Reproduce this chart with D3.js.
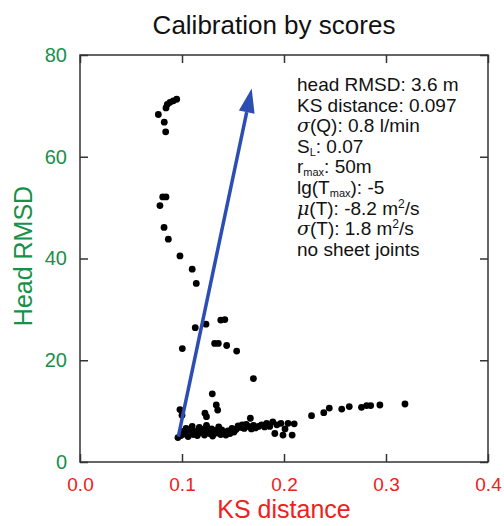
<!DOCTYPE html>
<html>
<head>
<meta charset="utf-8">
<script src="https://cdn.jsdelivr.net/npm/d3@7"></script>
<style>
  body { margin: 0; background: #fff; }
  text { font-family: "Liberation Sans", Arial, Helvetica, sans-serif; }
</style>
</head>
<body>
<svg id="chart" width="504" height="526"></svg>
<script>
// points, [KS distance, head RMSD]
const upperBranch = [
  [0.0948, 71.3], [0.0915, 71.0], [0.0882, 70.7], [0.0856, 70.3], [0.0843, 69.6],
  [0.0768, 68.3], [0.0826, 66.8], [0.0840, 64.9],
  [0.0811, 52.1], [0.0843, 52.1], [0.0784, 50.4],
  [0.0824, 46.1], [0.0866, 43.8], [0.098, 40.5], [0.110, 37.9], [0.114, 35.1]
];
const middleBranch = [
  [0.138, 27.9], [0.142, 28.0], [0.1235, 27.1], [0.113, 26.4],
  [0.1003, 22.3], [0.132, 23.3], [0.1356, 23.3], [0.1438, 22.9], [0.1536, 21.8],
  [0.170, 16.4], [0.1297, 13.4], [0.1336, 11.2], [0.135, 10.2],
  [0.098, 10.3], [0.100, 9.2], [0.1225, 9.6], [0.124, 8.9], [0.167, 8.6]
];
const lowerBand = [
  [0.096, 4.8], [0.099, 5.2], [0.101, 6.0], [0.103, 5.5], [0.104, 6.6], [0.106, 5.0],
  [0.108, 6.2], [0.110, 7.0], [0.111, 5.4], [0.113, 6.0], [0.115, 5.2], [0.117, 6.8],
  [0.118, 5.8], [0.120, 6.4], [0.122, 5.3], [0.124, 7.2], [0.125, 6.1], [0.127, 5.6],
  [0.129, 6.5], [0.130, 5.1], [0.132, 6.2], [0.134, 5.7], [0.136, 6.9], [0.138, 5.4],
  [0.139, 6.3], [0.141, 5.8], [0.143, 5.3], [0.145, 6.1], [0.147, 5.6], [0.149, 6.6],
  [0.151, 5.9], [0.153, 6.4], [0.155, 7.1], [0.157, 6.8], [0.159, 7.3], [0.161, 6.6],
  [0.163, 7.4], [0.165, 7.0], [0.168, 6.5], [0.170, 7.2], [0.172, 6.7], [0.175, 7.0],
  [0.178, 7.3], [0.181, 6.9], [0.183, 7.6], [0.186, 7.0], [0.189, 7.9], [0.191, 5.6],
  [0.193, 7.3], [0.197, 7.6], [0.199, 5.3], [0.201, 6.5], [0.204, 7.6], [0.208, 5.3],
  [0.210, 7.5]
];
const rightTail = [
  [0.227, 9.1], [0.239, 9.7], [0.2444, 10.6], [0.2566, 10.4], [0.264, 10.9],
  [0.276, 10.75], [0.281, 11.1], [0.285, 11.1], [0.294, 11.2], [0.3186, 11.4]
];
const arrowFrom = [0.0964, 5.0];
const arrowTo = [0.1683, 73.4];

const xTicks = [0.0, 0.1, 0.2, 0.3, 0.4];
const yTicks = [0, 20, 40, 60, 80];

// annotation lines: [text, shift] where shift is "sub", "sup" or "" ; italic greek as "i"
const notes = [
  [["head RMSD: 3.6 m", ""]],
  [["KS distance: 0.097", ""]],
  [["σ", "i"], ["(Q): 0.8 l/min", ""]],
  [["S", ""], ["L", "sub"], [": 0.07", ""]],
  [["r", ""], ["max", "sub"], [": 50m", ""]],
  [["lg(T", ""], ["max", "sub"], ["): -5", ""]],
  [["μ", "i"], ["(T): -8.2 m", ""], ["2", "sup"], ["/s", ""]],
  [["σ", "i"], ["(T): 1.8 m", ""], ["2", "sup"], ["/s", ""]],
  [["no sheet joints", ""]]
];

const svg = d3.select("#chart");
const x = d3.scaleLinear().domain([0, 0.4]).range([80, 488]);
const y = d3.scaleLinear().domain([0, 80]).range([462, 55]);

// frame
svg.append("rect")
  .attr("x", x(0)).attr("y", y(80))
  .attr("width", x(0.4) - x(0)).attr("height", y(0) - y(80))
  .attr("fill", "none").attr("stroke", "#333").attr("stroke-width", 1.5);

const tickStyle = (g) => {
  g.select(".domain").remove();
  g.selectAll(".tick line").attr("stroke", "#333").attr("stroke-width", 1.5);
};

svg.append("g")
  .attr("transform", `translate(0,${y(0)})`)
  .call(d3.axisBottom(x).tickValues(xTicks).tickSizeInner(-8).tickSizeOuter(0)
    .tickPadding(16).tickFormat(d3.format(".1f")))
  .call(tickStyle)
  .call((g) => g.selectAll("text").attr("fill", "#f02020").attr("font-size", 19));

svg.append("g")
  .attr("transform", `translate(0,${y(80)})`)
  .call(d3.axisTop(x).tickValues(xTicks).tickSizeInner(-8).tickSizeOuter(0).tickFormat(""))
  .call(tickStyle);

svg.append("g")
  .attr("transform", `translate(${x(0)},0)`)
  .call(d3.axisLeft(y).tickValues(yTicks).tickSizeInner(-8).tickSizeOuter(0).tickPadding(13))
  .call(tickStyle)
  .call((g) => g.selectAll("text").attr("fill", "#17904a").attr("font-size", 20));

svg.append("g")
  .attr("transform", `translate(${x(0.4)},0)`)
  .call(d3.axisRight(y).tickValues(yTicks).tickSizeInner(-8).tickSizeOuter(0).tickFormat(""))
  .call(tickStyle);

// titles
svg.append("text")
  .attr("x", 274).attr("y", 34)
  .attr("text-anchor", "middle").attr("font-size", 26).attr("fill", "#111")
  .text("Calibration by scores");

svg.append("text")
  .attr("x", 284).attr("y", 518)
  .attr("text-anchor", "middle").attr("font-size", 25).attr("fill", "#f02020")
  .text("KS distance");

svg.append("text")
  .attr("transform", "translate(32,256) rotate(-90)")
  .attr("text-anchor", "middle").attr("font-size", 25).attr("fill", "#17904a")
  .text("Head RMSD");

// points
const allPoints = upperBranch.concat(middleBranch, lowerBand, rightTail);
svg.append("g")
  .selectAll("circle")
  .data(allPoints)
  .join("circle")
  .attr("cx", (d) => x(d[0]))
  .attr("cy", (d) => y(d[1]))
  .attr("r", 3.4)
  .attr("fill", "#000");

// arrow
const arrowColor = "#2c4db3";
const x0 = x(arrowFrom[0]), y0 = y(arrowFrom[1]);
const x1 = x(arrowTo[0]), y1 = y(arrowTo[1]);
const ang = Math.atan2(y1 - y0, x1 - x0);
const headLen = 24, headHalf = 8;
const bx = x1 - headLen * Math.cos(ang), by = y1 - headLen * Math.sin(ang);
svg.append("line")
  .attr("x1", x0).attr("y1", y0).attr("x2", bx).attr("y2", by)
  .attr("stroke", arrowColor).attr("stroke-width", 3.5);
svg.append("path")
  .attr("d", d3.line()([
    [x1, y1],
    [bx + headHalf * Math.sin(ang), by - headHalf * Math.cos(ang)],
    [bx - headHalf * Math.sin(ang), by + headHalf * Math.cos(ang)]
  ]) + "Z")
  .attr("fill", arrowColor);

// annotation block, one text per line
notes.forEach((line, i) => {
  const row = svg.append("text")
    .attr("x", 297).attr("y", 91 + i * 20.6)
    .attr("font-size", 19).attr("fill", "#111");
  line.forEach((seg, j) => {
    const t = row.append("tspan").text(seg[0]);
    if (seg[1] === "i") t.attr("font-style", "italic").attr("font-family", "DejaVu Serif, serif");
    if (seg[1] === "sub") t.attr("font-size", 11).attr("dy", 3);
    if (seg[1] === "sup") t.attr("font-size", 12).attr("dy", -7);
    // undo the shift on the following segment
    const prev = j > 0 ? line[j - 1][1] : "";
    if (prev === "sub") t.attr("dy", -3);
    if (prev === "sup") t.attr("dy", 7);
  });
});
</script>
</body>
</html>
